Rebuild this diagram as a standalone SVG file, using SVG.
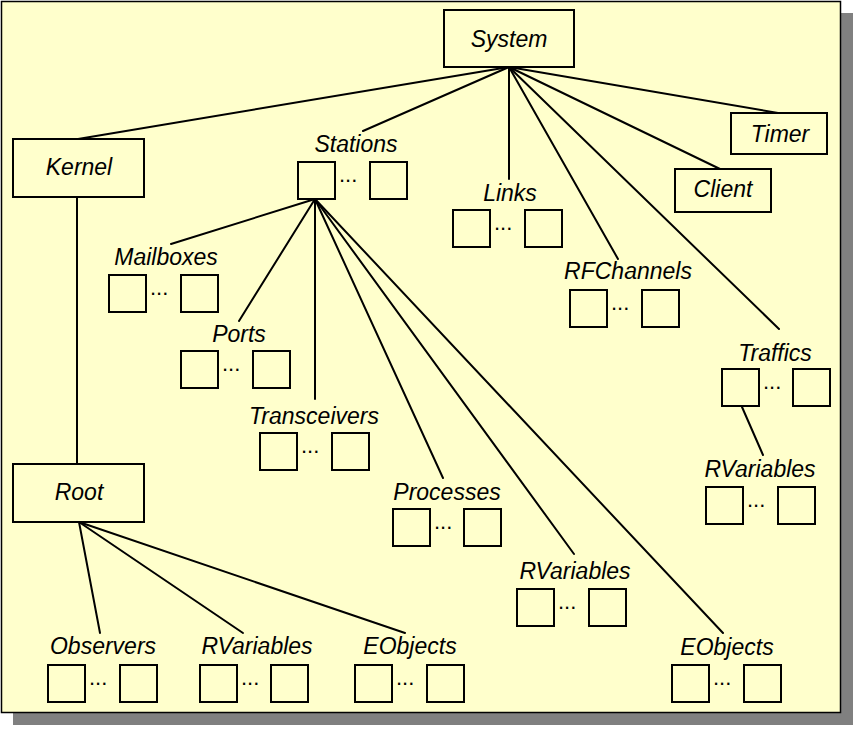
<svg xmlns="http://www.w3.org/2000/svg" width="855" height="730" viewBox="0 0 855 730">
<style>
.bg{fill:#FFFFCC;stroke:#000;stroke-width:1.5}
.box{fill:#FFFFCC;stroke:#000;stroke-width:2}
.sq{fill:#FFFFCC;stroke:#000;stroke-width:2}
.lbl{font-family:"Liberation Sans",Arial,sans-serif;font-style:italic;font-size:23px;fill:#000;text-anchor:middle}
.dots{font-family:"Liberation Sans",Arial,sans-serif;font-size:22px;fill:#000}
.conn line{stroke:#000;stroke-width:2;stroke-linecap:round}
</style>
<rect x="0" y="0" width="855" height="730" fill="#fff"/>
<rect x="13" y="13" width="840" height="712" fill="#808080"/>
<rect class="bg" x="1.5" y="1.5" width="839" height="711"/>
<g id="connectors" class="conn">
<line x1="509" y1="67" x2="78" y2="139"/>
<line x1="509" y1="67" x2="363" y2="131"/>
<line x1="509" y1="67" x2="509" y2="179"/>
<line x1="509" y1="67" x2="618" y2="259"/>
<line x1="509" y1="67" x2="779" y2="329"/>
<line x1="509" y1="67" x2="720" y2="169"/>
<line x1="509" y1="67" x2="778" y2="113"/>
<line x1="77" y1="197" x2="77" y2="464"/>
<line x1="315" y1="199" x2="171" y2="244"/>
<line x1="315" y1="199" x2="239" y2="321"/>
<line x1="315" y1="199" x2="315" y2="399"/>
<line x1="315" y1="199" x2="443" y2="478"/>
<line x1="315" y1="199" x2="574" y2="554"/>
<line x1="315" y1="199" x2="723" y2="633"/>
<line x1="742" y1="407" x2="763" y2="455"/>
<line x1="79" y1="522" x2="100" y2="633"/>
<line x1="79" y1="522" x2="243" y2="633"/>
<line x1="79" y1="522" x2="405" y2="633"/>
</g>
<g id="system"><rect class="box" x="444" y="10" width="130" height="57"/><text class="lbl" x="509" y="47">System</text></g>
<g id="kernel"><rect class="box" x="13" y="139" width="131" height="58"/><text class="lbl" x="79" y="175">Kernel</text></g>
<g id="root"><rect class="box" x="13" y="464" width="131" height="58"/><text class="lbl" x="79" y="500">Root</text></g>
<g id="timer"><rect class="box" x="731" y="113" width="96" height="41"/><text class="lbl" x="780" y="142">Timer</text></g>
<g id="client"><rect class="box" x="675" y="169" width="96" height="43"/><text class="lbl" x="723" y="197">Client</text></g>
<g id="stations"><text class="lbl" x="356" y="152">Stations</text><rect class="sq" x="298" y="162" width="37" height="37"/><text class="dots" x="339" y="182">...</text><rect class="sq" x="370" y="162" width="37" height="37"/></g>
<g id="links"><text class="lbl" x="510" y="201">Links</text><rect class="sq" x="453" y="210" width="37" height="37"/><text class="dots" x="494" y="230">...</text><rect class="sq" x="525" y="210" width="37" height="37"/></g>
<g id="mailboxes"><text class="lbl" x="166" y="265">Mailboxes</text><rect class="sq" x="109" y="275" width="37" height="37"/><text class="dots" x="150" y="295">...</text><rect class="sq" x="181" y="275" width="37" height="37"/></g>
<g id="rfchannels"><text class="lbl" x="628" y="279">RFChannels</text><rect class="sq" x="570" y="290" width="37" height="37"/><text class="dots" x="611" y="310">...</text><rect class="sq" x="642" y="290" width="37" height="37"/></g>
<g id="ports"><text class="lbl" x="239" y="342">Ports</text><rect class="sq" x="181" y="351" width="37" height="37"/><text class="dots" x="222" y="371">...</text><rect class="sq" x="253" y="351" width="37" height="37"/></g>
<g id="traffics"><text class="lbl" x="775" y="361">Traffics</text><rect class="sq" x="722" y="369" width="37" height="37"/><text class="dots" x="763" y="389">...</text><rect class="sq" x="793" y="369" width="37" height="37"/></g>
<g id="transceivers"><text class="lbl" x="314" y="424">Transceivers</text><rect class="sq" x="260" y="433" width="37" height="37"/><text class="dots" x="301" y="453">...</text><rect class="sq" x="332" y="433" width="37" height="37"/></g>
<g id="rvariables-traffics"><text class="lbl" x="760" y="477">RVariables</text><rect class="sq" x="706" y="487" width="37" height="37"/><text class="dots" x="747" y="507">...</text><rect class="sq" x="778" y="487" width="37" height="37"/></g>
<g id="processes"><text class="lbl" x="447" y="500">Processes</text><rect class="sq" x="393" y="509" width="37" height="37"/><text class="dots" x="434" y="529">...</text><rect class="sq" x="464" y="509" width="37" height="37"/></g>
<g id="rvariables-stations"><text class="lbl" x="575" y="579">RVariables</text><rect class="sq" x="517" y="589" width="37" height="37"/><text class="dots" x="558" y="609">...</text><rect class="sq" x="589" y="589" width="37" height="37"/></g>
<g id="observers"><text class="lbl" x="103" y="654">Observers</text><rect class="sq" x="48" y="665" width="37" height="37"/><text class="dots" x="89" y="685">...</text><rect class="sq" x="120" y="665" width="37" height="37"/></g>
<g id="rvariables-root"><text class="lbl" x="257" y="654">RVariables</text><rect class="sq" x="200" y="665" width="37" height="37"/><text class="dots" x="241" y="685">...</text><rect class="sq" x="271" y="665" width="37" height="37"/></g>
<g id="eobjects-root"><text class="lbl" x="410" y="654">EObjects</text><rect class="sq" x="355" y="665" width="37" height="37"/><text class="dots" x="396" y="685">...</text><rect class="sq" x="427" y="665" width="37" height="37"/></g>
<g id="eobjects-stations"><text class="lbl" x="727" y="655">EObjects</text><rect class="sq" x="672" y="665" width="37" height="37"/><text class="dots" x="713" y="685">...</text><rect class="sq" x="744" y="665" width="37" height="37"/></g>
</svg>
